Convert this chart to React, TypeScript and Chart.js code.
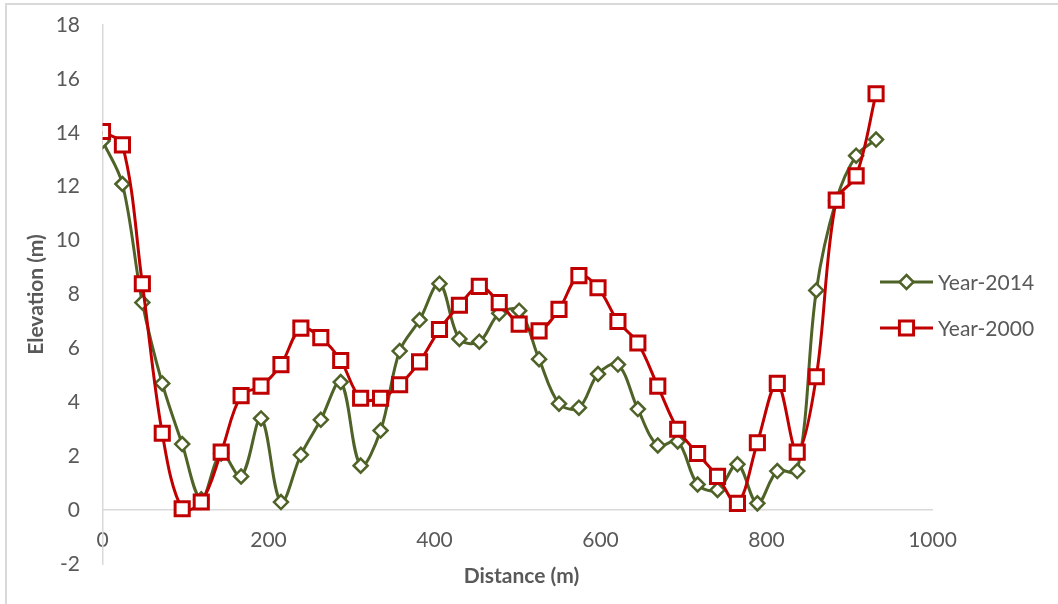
import React, { useEffect, useRef } from "react";
import { Chart, registerables } from "chart.js";

Chart.register(...registerables);

const distance = [0, 24, 48, 72, 96, 119, 143, 167, 191, 215, 239, 263, 287, 311, 335, 358, 382, 406, 430, 454, 478, 502, 526, 550, 574, 597, 621, 645, 669, 693, 717, 741, 765, 789, 813, 837, 860, 884, 908, 932];

const year2014 = [13.7, 12.1, 7.7, 4.7, 2.45, 0.4, 2.1, 1.25, 3.4, 0.3, 2.05, 3.35, 4.75, 1.65, 2.95, 5.9, 7.05, 8.4, 6.35, 6.25, 7.3, 7.4, 5.6, 3.95, 3.8, 5.05, 5.4, 3.75, 2.4, 2.55, 0.95, 0.75, 1.7, 0.25, 1.45, 1.45, 8.15, 11.5, 13.15, 13.75];

const year2000 = [14.05, 13.55, 8.4, 2.85, 0.05, 0.3, 2.15, 4.25, 4.6, 5.4, 6.75, 6.4, 5.55, 4.15, 4.15, 4.65, 5.5, 6.7, 7.6, 8.3, 7.7, 6.9, 6.65, 7.45, 8.7, 8.25, 7.0, 6.2, 4.6, 3.0, 2.1, 1.25, 0.25, 2.5, 4.7, 2.15, 4.95, 11.5, 12.4, 15.45];

const seriesNames = ["Year-2014", "Year-2000"];
const xTitle = "Distance (m)";
const yTitle = "Elevation (m)";

const GREEN = "#4f6228";
const RED = "#c00000";
const TEXT = "#595959";
const AXIS = "#d9d9d9";
const FONT = "Lato, 'Open Sans', sans-serif";

// target plot box (pixels) used to pin the chart area like the reference
const PLOT_TOP = 25;
const PLOT_BOTTOM = 564;

function drawMarker(ctx: any, style: string, r: number, x: number, y: number) {
  ctx.beginPath();
  if (style === "rectRot") {
    ctx.moveTo(x, y - r);
    ctx.lineTo(x + r, y);
    ctx.lineTo(x, y + r);
    ctx.lineTo(x - r, y);
  } else {
    const s = Math.SQRT1_2 * r;
    ctx.rect(x - s, y - s, 2 * s, 2 * s);
  }
  ctx.closePath();
  ctx.fill();
  ctx.stroke();
}

const overlayPlugin = {
  id: "overlay",
  afterDraw(chart: any) {
    const ctx = chart.ctx;
    const area = chart.chartArea;
    ctx.save();
    const ys = [282, 328];
    chart.data.datasets.forEach((ds: any, i: number) => {
      const y = ys[i];
      ctx.strokeStyle = ds.borderColor;
      ctx.lineWidth = 3;
      ctx.beginPath();
      ctx.moveTo(880, y);
      ctx.lineTo(933, y);
      ctx.stroke();
      ctx.fillStyle = "#ffffff";
      ctx.lineWidth = ds.pointBorderWidth;
      drawMarker(ctx, ds.pointStyle, ds.pointRadius, 906.5, y);
      ctx.fillStyle = TEXT;
      ctx.font = `21px ${FONT}`;
      ctx.textAlign = "left";
      ctx.textBaseline = "middle";
      ctx.fillText(ds.label, 938, y + 1);
    });
    ctx.fillStyle = TEXT;
    ctx.font = `bold 21px ${FONT}`;
    ctx.textAlign = "center";
    ctx.textBaseline = "middle";
    ctx.fillText(xTitle, (area.left + area.right) / 2 + 4, 576);
    ctx.translate(36, (area.top + area.bottom) / 2);
    ctx.rotate(-Math.PI / 2);
    ctx.fillText(yTitle, 0, 0);
    ctx.restore();
  },
};

export default function App() {
  const canvasRef = useRef<HTMLCanvasElement | null>(null);

  useEffect(() => {
    document.body.style.margin = "0";
    const canvas = canvasRef.current;
    if (!canvas) return;

    const chart = new Chart(canvas, {
      type: "line",
      data: {
        datasets: [
          {
            label: seriesNames[0],
            data: distance.map((d, i) => ({ x: d, y: year2014[i] })),
            borderColor: GREEN,
            backgroundColor: "#ffffff",
            borderWidth: 3,
            pointStyle: "rectRot",
            pointRadius: 7,
            pointBorderWidth: 2.5,
            pointBackgroundColor: "#ffffff",
            pointBorderColor: GREEN,
            tension: 0.35,
            order: 1,
          },
          {
            label: seriesNames[1],
            data: distance.map((d, i) => ({ x: d, y: year2000[i] })),
            borderColor: RED,
            backgroundColor: "#ffffff",
            borderWidth: 3,
            pointStyle: "rect",
            pointRadius: 10,
            pointBorderWidth: 3,
            pointBackgroundColor: "#ffffff",
            pointBorderColor: RED,
            tension: 0.35,
            order: 0,
          },
        ],
      },
      options: {
        responsive: false,
        animation: false,
        layout: { padding: { left: 0, right: 125.5, top: 0, bottom: 0 } },
        plugins: {
          legend: { display: false },
          tooltip: { enabled: false },
        },
        scales: {
          x: {
            type: "linear",
            position: { y: 0 } as any,
            min: 0,
            max: 1000,
            grid: { display: false, drawTicks: false },
            border: { display: true, color: AXIS, width: 1.5 },
            ticks: {
              stepSize: 200,
              color: TEXT,
              font: { family: FONT, size: 21 },
              padding: 18,
              maxRotation: 0,
              callback: (v: any) => String(v),
            },
          },
          y: {
            type: "linear",
            position: "left",
            min: -2,
            max: 18,
            grid: { display: false, drawTicks: false },
            border: { display: true, color: AXIS, width: 1.5 },
            ticks: {
              stepSize: 2,
              color: TEXT,
              font: { family: FONT, size: 21 },
              padding: 22.5,
              callback: (v: any) => String(v),
            },
            afterFit: (scale: any) => {
              scale.width = 102.5;
            },
          },
        },
      },
      plugins: [
        overlayPlugin,
        {
          id: "pinArea",
          afterLayout(c: any) {
            const a = c.chartArea;
            a.top = PLOT_TOP;
            a.bottom = PLOT_BOTTOM;
            a.height = PLOT_BOTTOM - PLOT_TOP;
            const y = c.scales.y;
            y.top = PLOT_TOP;
            y.bottom = PLOT_BOTTOM;
            y.height = PLOT_BOTTOM - PLOT_TOP;
            y.configure();
            const x = c.scales.x;
            x.configure();
          },
        },
      ],
    });

    return () => {
      chart.destroy();
    };
  }, []);

  return (
    <div
      style={{
        position: "absolute",
        left: 0,
        top: 0,
        width: 1058,
        height: 604,
        background: "#ffffff",
        overflow: "hidden",
      }}
    >
      <div
        style={{
          position: "absolute",
          left: 5,
          top: 3,
          right: -10,
          bottom: -10,
          borderTop: "2px solid #d9d9d9",
          borderLeft: "2px solid #d9d9d9",
        }}
      />
      <canvas
        ref={canvasRef}
        width={1058}
        height={604}
        style={{ position: "absolute", left: 0, top: 0, width: 1058, height: 604 }}
      />
    </div>
  );
}
